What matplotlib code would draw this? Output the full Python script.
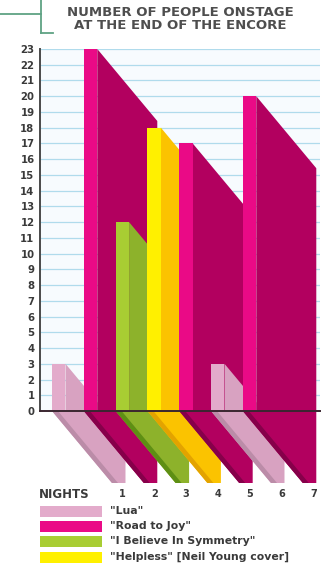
import matplotlib
matplotlib.use('Agg')
import matplotlib.pyplot as plt
from matplotlib.patches import Polygon, Rectangle
from matplotlib.lines import Line2D

# Songs played at the close of the encore, one per night
songs = ['"Lua"', '"Road to Joy"', '"I Believe In Symmetry"', '"Helpless" [Neil Young cover]']
nights = [1, 2, 3, 4, 5, 6, 7]
night_song = [0, 1, 2, 3, 1, 0, 1]
onstage = [3, 23, 12, 18, 17, 3, 20]
y_ticks = list(range(0, 24))

# face colours per song: front, side, dark edge
front_col = ['#e3abcb', '#ea0a86', '#a8cd33', '#fff000']
side_col = ['#d8a2c1', '#b2005f', '#8db22b', '#fbc300']
edge_col = ['#bb8ca8', '#86004a', '#5e8f14', '#e3a300']
txt_col = '#3a3a3a'

W, H = 334, 569
fig = plt.figure(figsize=(W / 100, H / 100), dpi=100)
fig.patch.set_facecolor('white')

# axes box in pixels: x 40..320, y 49..411
ax = fig.add_axes([40 / W, 1 - 411 / H, 280 / W, 362 / H])
px_x = 31.8              # pixels per night
px_y = 362 / 23          # pixels per person
ax.set_xlim(0, 280 / px_x)
ax.set_ylim(0, 23)
ax.set_facecolor('#f7fbfe')

bar_w = 13.5 / px_x
off_x = 60 / px_x        # extrusion toward the viewer
off_y = 72 / px_y
edge_w = 6 / px_x

for y in y_ticks[1:]:
    ax.axhline(y, color='#b0dbec', lw=0.9, zorder=1)

for n, s, v in zip(nights, night_song, onstage):
    x0 = n - 0.623
    x1 = x0 + bar_w
    z = 2 + n
    # side face running back down to the floor
    side = Polygon([(x1, v), (x1 + off_x, v - off_y), (x1 + off_x, -off_y),
                    (x0 + off_x, -off_y), (x0, 0), (x1, 0)],
                   closed=True, fc=side_col[s], ec='none', zorder=z, clip_on=False)
    ax.add_patch(side)
    # dark strip along the lower left edge
    strip = Polygon([(x0, 0), (x0 + edge_w, 0), (x0 + edge_w + off_x, -off_y),
                     (x0 + off_x, -off_y)],
                    closed=True, fc=edge_col[s], ec='none', zorder=z, clip_on=False)
    ax.add_patch(strip)
    # front face
    ax.add_patch(Rectangle((x0, 0), bar_w, v, fc=front_col[s], ec='none', zorder=z))
    # night number under the end of the band
    ax.text(x1 + off_x - 3 / px_x, -off_y - 11 / px_y, str(n), ha='center', va='center',
            fontsize=7, fontweight='bold', color=txt_col, clip_on=False)

ax.text(-0.03, -off_y - 11 / px_y, 'NIGHTS', ha='left', va='center',
        fontsize=8.5, fontweight='bold', color=txt_col, clip_on=False)

# axis lines
ax.plot([0, 0], [0, 23], color='#4a4a4a', lw=1.4, zorder=20, clip_on=False)
ax.plot([0, 280 / px_x], [0, 0], color='#3a2630', lw=1.4, zorder=20, clip_on=False)

for sp in ax.spines.values():
    sp.set_visible(False)
ax.set_xticks([])
ax.set_yticks(y_ticks)
ax.set_yticklabels([str(t) for t in y_ticks], fontsize=7.3, fontweight='bold', color=txt_col)
ax.tick_params(axis='y', length=0, pad=4)

# title with bracket
fig.text(180 / W, 1 - 12 / H, 'NUMBER OF PEOPLE ONSTAGE', ha='center', va='center',
         fontsize=9.5, fontweight='bold', color='#4e4e4e')
fig.text(180 / W, 1 - 25.5 / H, 'AT THE END OF THE ENCORE', ha='center', va='center',
         fontsize=9.5, fontweight='bold', color='#4e4e4e')
bc = '#5fa384'
fig.add_artist(Line2D([0, 41 / W], [1 - 14 / H, 1 - 14 / H], color=bc, lw=1.3))
fig.add_artist(Line2D([41 / W, 41 / W], [1, 1 - 33 / H], color=bc, lw=1.3))
fig.add_artist(Line2D([41 / W, 53 / W], [1 - 33 / H, 1 - 33 / H], color=bc, lw=1.3))

# legend
leg_y = [511, 526, 541, 557]
for s, yy in enumerate(leg_y):
    fig.add_artist(Rectangle((40 / W, 1 - (yy + 5.5) / H), 62 / W, 11 / H,
                             transform=fig.transFigure, fc=front_col[s], ec='none'))
    fig.text(110 / W, 1 - yy / H, songs[s], ha='left', va='center',
             fontsize=7.8, fontweight='bold', color=txt_col)

fig.savefig('out.png', dpi=100)
